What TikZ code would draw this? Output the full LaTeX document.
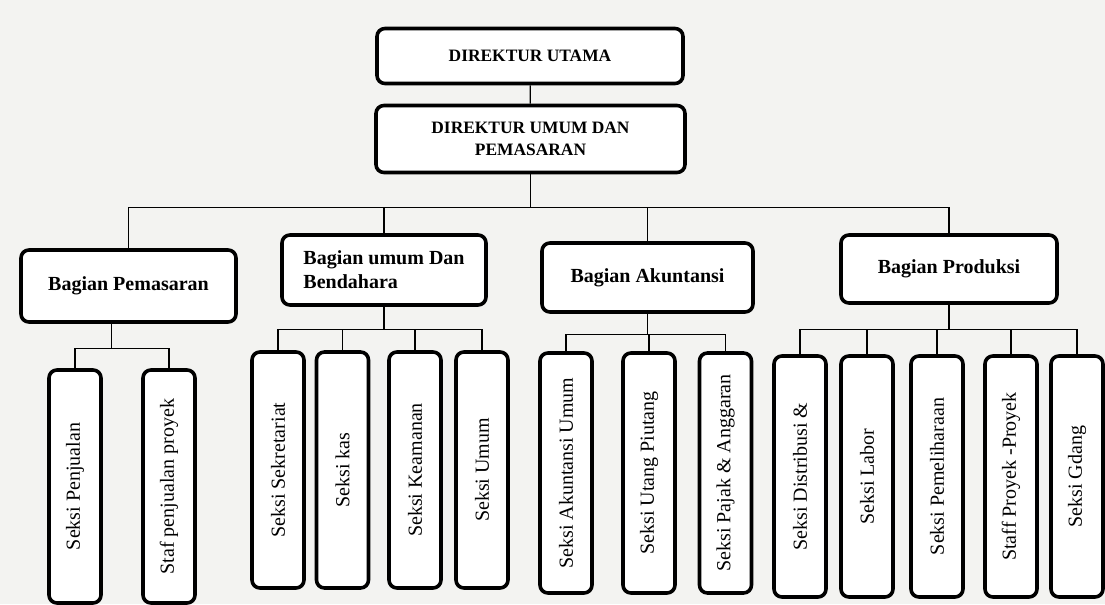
\documentclass[tikz,border=0pt]{standalone}
\usepackage{fontspec}
\setmainfont{Liberation Serif}
\usepackage{graphicx}
\usetikzlibrary{calc}
\definecolor{mypaper}{RGB}{243, 243, 241}
\tikzset{
  topbox/.style = {draw, line width = 1.8pt, rounded corners = 4pt, fill = white,
    font = \bfseries\fontsize{8.7}{11}\selectfont, align = center},
  partbox/.style = {draw, line width = 1.8pt, rounded corners = 4pt, fill = white,
    font = \bfseries},
  seksibox/.style = {draw, line width = 1.8pt, rounded corners = 4pt, fill = white,
    minimum width = 26pt, inner sep = 0pt},
  link/.style = {line width = 0.6pt}
}

\begin{document}
\begin{tikzpicture}[x = 0.5pt, y = -0.5pt]

\fill[mypaper] (0,0) rectangle (1105,604); % paper

% direksi
\node[topbox, minimum width = 153pt, minimum height = 27.5pt] (du) at (530, 56) {DIREKTUR UTAMA};
\node[topbox, minimum width = 154.5pt, minimum height = 33.5pt] (dup) at (530.5, 139) {DIREKTUR UMUM DAN\\PEMASARAN};
\draw[link] (du) -- (dup);

% bagian
\node[partbox, minimum width = 107.5pt, minimum height = 36pt] (bpem) at (128.5, 286) {Bagian Pemasaran};
\node[partbox, minimum width = 102pt, minimum height = 35pt, align = left] (bumum) at (384, 270) {Bagian umum Dan\\Bendahara};
\node[partbox, minimum width = 105.5pt, minimum height = 34.5pt] (bakun) at (647.5, 277.5) {Bagian Akuntansi};
\node[partbox, minimum width = 108pt, minimum height = 34pt] (bprod) at (949, 269) {Bagian Produksi};

\draw[link] (dup.south) -- ++(0, 33) coordinate (hub);
\draw[link] (bpem.north) |- (hub) -| (bprod.north);
\draw[link] (bumum.north) -- (bumum.north |- hub);
\draw[link] (bakun.north) -- (bakun.north |- hub);

% seksi pemasaran
\begin{scope}[every node/.style = {seksibox, minimum height = 116.5pt}]
\node (sp1) at (75, 486.5) {\rotatebox{90}{Seksi Penjualan}};
\node (sp2) at (169, 486.5) {\rotatebox{90}{Staf penjualan proyek}};
\end{scope}
\draw[link] ([xshift = -8.5pt]bpem.south) -- ++(0, 25) coordinate (bus1);
\draw[link] (sp1.north) |- (bus1) -| (sp2.north);

% seksi umum dan bendahara
\begin{scope}[every node/.style = {seksibox, minimum height = 118pt}]
\node (s1) at (278, 470) {\rotatebox{90}{Seksi Sekretariat}};
\node (s2) at (342.5, 470) {\rotatebox{90}{Seksi kas}};
\node (s3) at (415, 470) {\rotatebox{90}{Seksi Keamanan}};
\node (s4) at (482, 470) {\rotatebox{90}{Seksi Umum}};
\end{scope}
\draw[link] (bumum.south) -- ++(0, 23) coordinate (bus2);
\draw[link] (s1.north) |- (bus2) -| (s4.north);
\foreach \n in {s2, s3}
  \draw[link] (\n.north) -- (\n.north |- bus2);

% seksi akuntansi
\begin{scope}[every node/.style = {seksibox, minimum height = 120pt}]
\node (a1) at (566, 473) {\rotatebox{90}{Seksi Akuntansi Umum}};
\node (a2) at (649, 473) {\rotatebox{90}{Seksi Utang Piutang}};
\node (a3) at (725.5, 473) {\rotatebox{90}{Seksi Pajak \& Anggaran}};
\end{scope}
\draw[link] (bakun.south) -- ++(0, 21) coordinate (bus3);
\draw[link] (a1.north) |- (bus3) -| (a3.north);
\draw[link] (a2.north) -- (a2.north |- bus3);

% seksi produksi
\begin{scope}[every node/.style = {seksibox, minimum height = 120.5pt}]
\node (p1) at (800, 476.5) {\rotatebox{90}{Seksi Distribusi \&}};
\node (p2) at (867, 476.5) {\rotatebox{90}{Seksi Labor}};
\node (p3) at (937, 476.5) {\rotatebox{90}{Seksi Pemeliharaan}};
\node (p4) at (1011, 476.5) {\rotatebox{90}{Staff Proyek -Proyek}};
\node (p5) at (1077, 476.5) {\rotatebox{90}{Seksi Gdang}};
\end{scope}
\draw[link] (bprod.south) -- ++(0, 25) coordinate (bus4);
\draw[link] (p1.north) |- (bus4) -| (p5.north);
\foreach \n in {p2, p3, p4}
  \draw[link] (\n.north) -- (\n.north |- bus4);

\end{tikzpicture}
\end{document}
